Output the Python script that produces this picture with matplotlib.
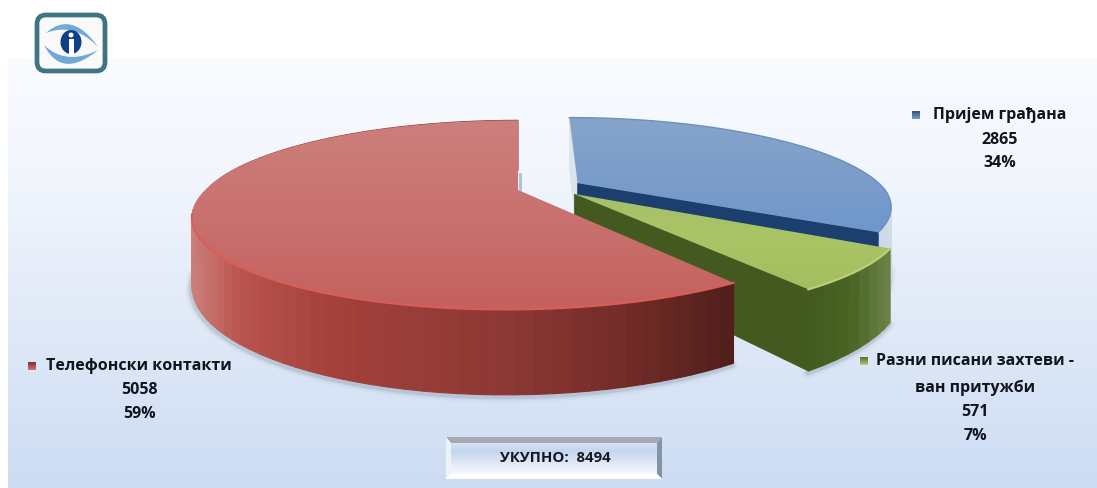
import numpy as np
import matplotlib
matplotlib.use('Agg')
from matplotlib import pyplot as plt
from matplotlib.collections import PolyCollection
from matplotlib.colors import LinearSegmentedColormap, to_rgb
from matplotlib.patches import FancyBboxPatch, Polygon, Ellipse, Rectangle

plt.rcParams['font.family'] = ['Open Sans', 'Roboto', 'DejaVu Sans']

categories = ['Пријем грађана', 'Разни писани захтеви', 'Телефонски контакти']
values = [2865, 571, 5058]
percents = ['34%', '7%', '59%']
total = 8494

# pie geometry, in pixels of the picture
CX, CY, A, B, K, DEPTH = 518, 190, 312, 88, 0.263, 63
# (u offset, v offset, radius, u offset of the apex)
offsets = [(0.21, -0.08, 0.97, 0.195), (0.178, 0.045, 1.0, 0.18), (0.0, 0.0, 1.0, 0.0)]

fig = plt.figure(figsize=(10.97, 4.88), dpi=100)
ax = fig.add_axes([0, 0, 1, 1])
ax.set_axis_off()


def gradient(pts, stops, horizontal=False, zorder=1):
    # fills a polygon with a colour ramp by clipping an image
    pts = np.asarray(pts)
    x0, y0 = pts.min(axis=0)
    x1, y1 = pts.max(axis=0)
    cmap = LinearSegmentedColormap.from_list('g', stops)
    ramp = np.linspace(0, 1, 256)
    ramp = ramp[None, :] if horizontal else ramp[:, None]
    im = ax.imshow(ramp, cmap=cmap, extent=(x0, x1, y1, y0), origin='upper',
                   aspect='auto', zorder=zorder, interpolation='bilinear')
    clip = Polygon(pts, closed=True, transform=ax.transData)
    im.set_clip_path(clip)


def project(u, v, depth=0.0):
    v = np.asarray(v, dtype=float)
    s = 1 / (1 - K * v)
    # the front of the pie sits a little to the left
    return CX + (A * np.asarray(u) - 9 * np.clip(v, 0, None)) * s, CY + B * v * s + depth * s


def rim(a0, a1, off, n=120):
    ang = np.radians(np.linspace(a0, a1, n))
    return off[2] * np.sin(ang) + off[0], -off[2] * np.cos(ang) + off[1]


def ramp_colour(stops, t):
    xs = [p for p, _ in stops]
    cols = np.array([to_rgb(c) for _, c in stops])
    return [np.interp(t, xs, cols[:, i]) for i in range(3)]


def side_strip(a0, a1, off, stops, z):
    # outer wall of a slice, built from narrow strips like the banded original
    u, v = rim(a0, a1, off, n=max(int(abs(a1 - a0) / 2.5), 4))
    tx, ty = project(u, v)
    bx, by = project(u, v, DEPTH)
    quads, cols = [], []
    for i in range(len(u) - 1):
        quads.append([(tx[i], ty[i]), (tx[i + 1], ty[i + 1]), (bx[i + 1], by[i + 1]), (bx[i], by[i])])
        cols.append(ramp_colour(stops, (tx[i] + tx[i + 1]) / 2))
    ax.add_collection(PolyCollection(quads, facecolors=cols, edgecolors=cols, linewidths=0.8, zorder=z))


def cut_face(angle, off, colour, z):
    u, v = rim(angle, angle, off, n=1)
    px, py = project([off[3], u[0]], [off[1], v[0]])
    qx, qy = project([off[3], u[0]], [off[1], v[0]], DEPTH)
    ax.add_patch(Polygon([(px[0], py[0]), (px[1], py[1]), (qx[1], qy[1]), (qx[0], qy[0])],
                         closed=True, facecolor=colour, edgecolor=colour, lw=0.5, zorder=z))


def top_outline(a0, a1, off):
    u, v = rim(a0, a1, off)
    x, y = project(np.r_[off[3], u], np.r_[off[1], v])
    return np.c_[x, y]


def soft_shadow(a0, a1, off, z):
    u, v = rim(a0, a1, off)
    x, y = project(u, v, DEPTH)
    for lw, al in [(8, 0.04), (5, 0.07), (3, 0.12)]:
        ax.plot(x - 1, y + 2, color='#44566a', lw=lw, alpha=al, zorder=z, solid_capstyle='round')


def crescent(outer, inner, colour, z):
    # two quadratic curves, given as three points each, closed into one shape
    t = np.linspace(0, 1, 30)[:, None]
    curve = lambda p: (1 - t) ** 2 * p[0] + 2 * t * (1 - t) * p[1] + t ** 2 * p[2]
    pts = np.r_[curve(np.array(outer, float)), curve(np.array(inner, float))]
    ax.add_patch(Polygon(pts, closed=True, facecolor=colour, edgecolor='none', zorder=z))


# background
gradient([(8, 58), (1097, 58), (1097, 488), (8, 488)],
         ['#f9fbff', '#f3f6fd', '#e6edf9', '#d9e5f6', '#cddcf3'], zorder=0)

shares = np.array(values) / sum(values) * 360
starts = np.r_[0, np.cumsum(shares)[:-1]]
ends = starts + shares

# blue slice
soft_shadow(starts[0] + 75, ends[0], offsets[0], 2)
cut_face(starts[0], offsets[0], '#dde4ec', 3)
side_strip(starts[0] + 60, ends[0], offsets[0], [(800, '#aebfd4'), (900, '#d5dfea')], 3)
cut_face(ends[0], offsets[0], '#1b3f6e', 4)
blue_top = top_outline(starts[0], ends[0], offsets[0])
gradient(blue_top, ['#86a5cb', '#7c9dc9', '#6f97cc'], zorder=5)
ax.plot(blue_top[1:, 0], blue_top[1:, 1], color='#6c8fbd', lw=1.0, zorder=5)

# green slice
soft_shadow(starts[1], ends[1], offsets[1], 6)
side_strip(starts[1], ends[1], offsets[1], [(800, '#405a1e'), (850, '#4a6423'), (890, '#6d8349')], 7)
cut_face(ends[1], offsets[1], '#43591f', 8)
green_top = top_outline(starts[1], ends[1], offsets[1])
gradient(green_top, ['#a8c169', '#aac364', '#a4bd60'], zorder=9)
u, v = rim(starts[1], ends[1], offsets[1])
ax.plot(*project(u, v), color='#b9d27c', lw=1.5, zorder=9)

# red slice
ax.plot([520, 520], [174, 190], color='#b4bfca', lw=2, zorder=2)
soft_shadow(starts[2], ends[2] - 100, offsets[2], 10)
side_strip(starts[2], ends[2], offsets[2],
           [(192, '#cc7f7a'), (240, '#b9534d'), (330, '#a4413c'), (520, '#8a3733'),
            (640, '#6f2a26'), (735, '#4e1e1b')], 11)
red_top = top_outline(starts[2], ends[2], offsets[2])
gradient(red_top, ['#cc7f7c', '#c97270', '#c4605d'], zorder=12)
u, v = rim(starts[2], ends[2] - 105, offsets[2])
ax.plot(*project(u, v), color='#d85e58', lw=1.6, zorder=12)

# labels, same layout for each slice
label_style = dict(ha='center', va='center', fontsize=11.5, fontweight='bold', color='#10141c', zorder=20)
ax.text(1000, 115, categories[0], **label_style)
ax.text(1000, 140, str(values[0]), **label_style)
ax.text(1000, 163, percents[0], **label_style)

ax.text(975, 361, categories[1] + ' -', **label_style)
ax.text(975, 388, 'ван притужби', **label_style)
ax.text(975, 412, str(values[1]), **label_style)
ax.text(975, 436, percents[1], **label_style)

ax.text(139, 366, categories[2], **label_style)
ax.text(139, 390, str(values[2]), **label_style)
ax.text(139, 414, percents[2], **label_style)

for (mx, my), col, dark in [((916, 115), '#7f9ec6', '#2c5083'), ((864, 361), '#b5cb72', '#556f2a'),
                            ((32, 366), '#d07a74', '#7a2b28')]:
    gradient([(mx - 4, my - 4), (mx + 4, my - 4), (mx + 4, my + 4), (mx - 4, my + 4)], [dark, col], zorder=20)

# total box with bevel
bx0, by0, bx1, by1 = 446, 437, 662, 479
gradient([(bx0, by0), (bx1, by0), (bx1, by1), (bx0, by1)], ['#e6edf8', '#c5d5ee', '#e4ecf8', '#ffffff'], zorder=15)
ax.add_patch(Polygon([(bx0, by0), (bx1, by0), (bx1 - 5, by0 + 6), (bx0 + 5, by0 + 6)], facecolor='#a5a9b0', zorder=16))
ax.add_patch(Polygon([(bx1, by0), (bx1, by1), (bx1 - 5, by1 - 5), (bx1 - 5, by0 + 6)], facecolor='#8494a8', zorder=16))
ax.add_patch(Polygon([(bx0, by0), (bx0 + 5, by0 + 6), (bx0 + 5, by1 - 5), (bx0, by1)], facecolor='#eef2fa', zorder=16))
ax.add_patch(Polygon([(bx0, by1), (bx1, by1), (bx1 - 5, by1 - 5), (bx0 + 5, by1 - 5)], facecolor='#ffffff', zorder=16))
ax.text(555, 458, f'УКУПНО:  {total}', ha='center', va='center', fontsize=10.8, fontweight='bold',
        color='#141820', zorder=20)

# logo
ax.add_patch(FancyBboxPatch((37, 15), 68, 56, boxstyle='round,pad=0,rounding_size=9', facecolor='#f9f9f9',
                            edgecolor='#3f7580', lw=3.4, zorder=15))
crescent([(46, 33), (72, 10), (98, 47)], [(98, 47), (74, 22), (46, 33)], '#6fa9d8', 16)
crescent([(44, 45), (62, 80), (98, 50)], [(98, 50), (66, 66), (44, 45)], '#6fa9d8', 16)
ax.add_patch(Ellipse((71, 42), 21, 24, facecolor='#0f3f86', zorder=17))
ax.add_patch(Ellipse((71, 35), 5, 5, facecolor='white', zorder=18))
ax.add_patch(Rectangle((68.5, 38.5), 5, 16, facecolor='white', zorder=18))

ax.set_xlim(0, 1097)
ax.set_ylim(488, 0)
fig.savefig('out.png', dpi=100)
